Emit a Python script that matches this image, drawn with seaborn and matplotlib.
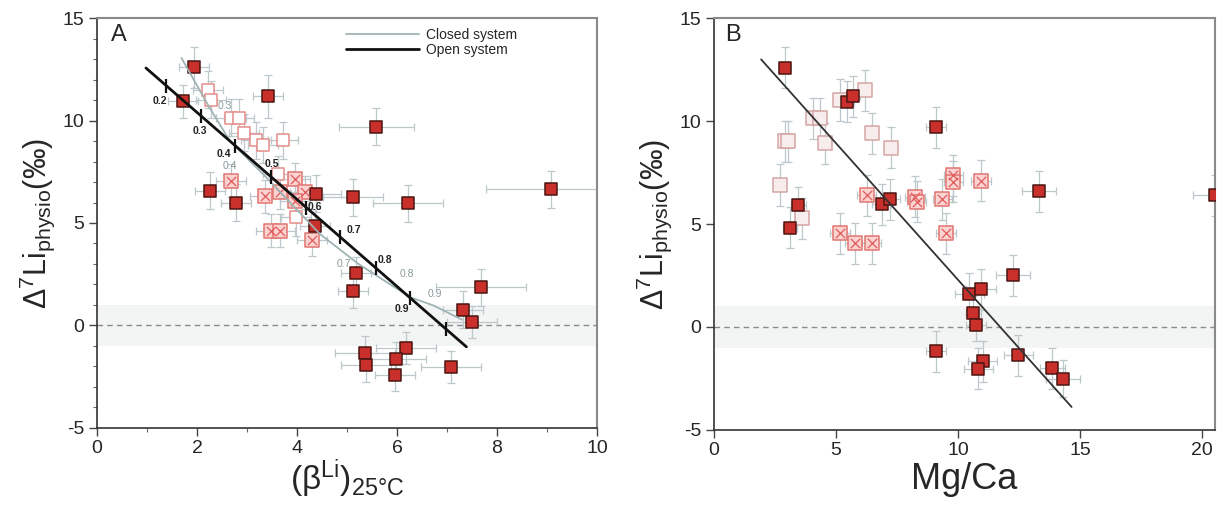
import matplotlib
matplotlib.use("Agg")
import matplotlib.pyplot as plt
import seaborn as sns
from matplotlib.lines import Line2D
from matplotlib.ticker import MultipleLocator

# ---------------- Panel A : (beta Li)25C vs D7Li physio ----------------
a_fill_x = [1.94, 1.73, 3.43, 5.59, 2.26, 2.79, 4.39, 5.13, 6.23, 9.09, 4.36,
            5.19, 5.13, 7.69, 7.33, 7.51, 5.36, 5.39, 6.18, 5.98, 5.96, 7.09]
a_fill_y = [12.6, 10.95, 11.2, 9.7, 6.57, 6.0, 6.44, 6.25, 5.96, 6.65, 4.87,
            2.55, 1.67, 1.87, 0.76, 0.16, -1.33, -1.95, -1.10, -1.62, -2.43, -2.03]
a_fill_xe = [0.3, 0.3, 0.3, 0.75, 0.3, 0.3, 0.5, 0.6, 0.7, 1.3, 0.3,
             0.3, 0.3, 0.9, 0.4, 0.5, 0.6, 0.5, 0.6, 0.6, 0.4, 0.6]
a_fill_ye = [1.0, 0.8, 1.05, 0.9, 0.9, 0.9, 0.9, 0.9, 0.9, 0.9, 0.8,
             0.8, 0.8, 0.9, 0.9, 0.8, 0.8, 0.8, 0.8, 0.8, 0.8, 0.8]

a_open_x = [2.23, 2.29, 2.68, 2.85, 2.94, 3.19, 3.33, 3.73, 3.63, 3.99]
a_open_y = [11.5, 11.03, 10.15, 10.15, 9.41, 9.03, 8.81, 9.03, 7.37, 5.27]

a_cross_x = [2.69, 3.97, 3.36, 3.66, 4.16, 3.97, 3.49, 3.66, 4.31]
a_cross_y = [7.06, 7.14, 6.30, 6.49, 6.49, 6.08, 4.62, 4.62, 4.17]

# open system line (straight) and its f marks
open_x = [0.98, 7.39]
open_y = [12.57, -1.05]
open_f_x = [1.39, 2.08, 2.77, 3.49, 4.19, 4.86, 5.58, 6.27, 6.99]
open_f_y = [11.70, 10.23, 8.77, 7.24, 5.75, 4.33, 2.80, 1.33, -0.20]
open_f_lab = ["0.2", "0.3", "0.4", "0.5", "0.6", "0.7", "0.8", "0.9", ""]
open_lab_x = [1.25, 2.06, 2.53, 3.49, 4.36, 5.13, 5.76, 6.09]
open_lab_y = [10.95, 9.49, 8.35, 7.9, 5.79, 4.67, 3.19, 0.81]

# closed system curve
closed_x = [1.69, 2.26, 2.66, 3.39, 4.46, 5.23, 6.26, 6.73, 7.30]
closed_y = [13.06, 10.6, 9.0, 7.22, 4.46, 3.0, 1.38, 0.97, 0.28]
closed_lab = ["0.3", "0.4", "0.7", "0.8", "0.9"]
closed_lab_x = [2.56, 2.66, 4.93, 6.19, 6.76]
closed_lab_y = [10.7, 7.79, 3.0, 2.51, 1.54]

# ---------------- Panel B : Mg/Ca vs D7Li physio ----------------
b_fill_x = [2.91, 5.44, 5.68, 9.10, 3.46, 3.11, 6.87, 7.21, 13.33, 20.53, 12.27,
            10.46, 10.94, 10.63, 10.74, 9.10, 12.47, 11.01, 10.83, 13.87, 14.31]
b_fill_y = [12.6, 10.95, 11.2, 9.7, 5.92, 4.82, 5.96, 6.2, 6.6, 6.4, 2.51,
            1.62, 1.83, 0.68, 0.11, -1.19, -1.38, -1.67, -2.03, -2.0, -2.51]
b_fill_xe = [0.2, 0.3, 0.3, 0.4, 0.3, 0.3, 0.4, 0.4, 0.7, 0.9, 0.7,
             0.6, 0.6, 0.3, 0.4, 0.4, 0.6, 0.6, 0.6, 0.5, 0.7]
b_fill_ye = [1.0, 1.0, 1.0, 1.0, 0.9, 1.0, 1.0, 1.0, 1.0, 1.0, 1.0,
             1.0, 1.0, 0.8, 0.8, 1.0, 1.0, 1.0, 1.0, 1.0, 0.9]

b_open_x = [5.16, 6.19, 4.07, 4.34, 2.91, 3.05, 4.55, 6.49, 7.24, 2.70, 3.59]
b_open_y = [11.03, 11.5, 10.13, 10.13, 9.03, 9.03, 8.92, 9.41, 8.71, 6.9, 5.27]

b_cross_x = [6.26, 8.24, 8.31, 9.36, 9.81, 9.81, 10.94, 9.51, 5.16, 5.78, 6.46]
b_cross_y = [6.40, 6.33, 6.08, 6.20, 7.37, 7.06, 7.10, 4.54, 4.54, 4.06, 4.06]

fit_b_x = [1.93, 14.66]
fit_b_y = [13.0, -3.89]

# ---------------- styling ----------------
sns.set_style("ticks")
plt.rcParams["font.family"] = ["Liberation Sans", "DejaVu Sans"]
plt.rcParams["mathtext.fontset"] = "custom"
plt.rcParams["mathtext.rm"] = "Liberation Sans"
plt.rcParams["mathtext.it"] = "Liberation Sans:italic"
plt.rcParams["axes.unicode_minus"] = False

ERR = "#bcc8cc"
FILL, FILL_EDGE = "#c9302b", "#4a1512"


def draw_group(ax, x, y, xe, ye, face, edge, s, cross=False):
    ax.errorbar(x, y, xerr=xe, yerr=ye, fmt="none", ecolor=ERR,
                elinewidth=0.9, capsize=3, capthick=0.9, zorder=2)
    sns.scatterplot(x=x, y=y, marker="s", s=s, color=face, edgecolor=edge,
                    linewidth=1.1, ax=ax, zorder=3, legend=False)
    if cross:
        sns.scatterplot(x=x, y=y, marker="x", s=s * 0.45, color="#e05a5a",
                        linewidth=0.9, ax=ax, zorder=4, legend=False)


def style_axes(ax, xlim, xmaj, xmin=None, ymin=True):
    ax.set_xlim(*xlim)
    ax.set_ylim(-5, 15)
    ax.xaxis.set_major_locator(MultipleLocator(xmaj))
    ax.yaxis.set_major_locator(MultipleLocator(5))
    if xmin:
        ax.xaxis.set_minor_locator(MultipleLocator(xmin))
    if ymin:
        ax.yaxis.set_minor_locator(MultipleLocator(1))
    ax.tick_params(which="major", direction="out", length=6, width=1,
                   color="#444", labelsize=14, pad=3)
    ax.tick_params(which="minor", direction="out", length=3, width=0.8, color="#666")
    for side in ["left", "bottom"]:
        ax.spines[side].set_color("#333")
        ax.spines[side].set_linewidth(1.2)
    for side in ["top", "right"]:
        ax.spines[side].set_color("#8a8a8a")
        ax.spines[side].set_linewidth(1.5)
    ax.axhspan(-1, 1, color="#f3f4f4", zorder=0, lw=0)
    ax.axhline(0, ls=(0, (4, 3)), color="#8a8a8a", lw=1, zorder=1)
    ax.set_ylabel(r"$\Delta^{7}\mathrm{Li}_{\mathrm{physio}}$(‰)", fontsize=22, labelpad=4)


fig = plt.figure(figsize=(12.21, 5.21), dpi=100)
axA = fig.add_axes([0.0794, 0.179, 0.4095, 0.786])
axB = fig.add_axes([0.5848, 0.175, 0.4105, 0.790])

# ---- Panel A ----
style_axes(axA, (0, 10), 2, xmin=1)
sns.lineplot(x=closed_x, y=closed_y, color="#9fb3b3", lw=1.3, ax=axA, zorder=5, sort=False)
sns.lineplot(x=open_x, y=open_y, color="#111", lw=2.0, ax=axA, zorder=6)
sns.scatterplot(x=open_f_x, y=open_f_y, marker="|", s=90, color="#111",
                linewidth=1.6, ax=axA, zorder=7, legend=False)
for t, tx, ty in zip(open_f_lab, open_lab_x, open_lab_y):
    axA.text(tx, ty, t, fontsize=7.5, fontweight="bold", color="#222",
             ha="center", va="center", zorder=8)
for t, tx, ty in zip(closed_lab, closed_lab_x, closed_lab_y):
    axA.text(tx, ty, t, fontsize=7.5, color="#8a9a9a", ha="center", va="center", zorder=8)

draw_group(axA, a_open_x, a_open_y, 0.3, 0.9, "white", "#e58d8a", 85)
draw_group(axA, a_cross_x, a_cross_y, 0.3, 0.8, "#fbd3d1", "#e27571", 95, cross=True)
draw_group(axA, a_fill_x, a_fill_y, a_fill_xe, a_fill_ye, FILL, FILL_EDGE, 75)

axA.text(0.28, 14.2, "A", fontsize=17, ha="left", va="center")
handles = [Line2D([], [], color="#9fb3b3", lw=1.3),
           Line2D([], [], color="#111", lw=2.0)]
axA.legend(handles, ["Closed system", "Open system"], loc="upper right",
           bbox_to_anchor=(0.86, 1.0), frameon=False, fontsize=10,
           handlelength=5.3, handletextpad=0.5, labelspacing=0.1, borderaxespad=0.3)
axA.set_xlabel(r"$(\mathrm{β}^{\mathrm{Li}})_{\mathrm{25°C}}$", fontsize=24, labelpad=0)

# ---- Panel B ----
style_axes(axB, (0, 20.55), 5, ymin=False)
sns.lineplot(x=fit_b_x, y=fit_b_y, color="#333", lw=1.3, ax=axB, zorder=6)
draw_group(axB, b_open_x, b_open_y, 0.2, 1.0, "#f7eded", "#d5a5a4", 110)
draw_group(axB, b_cross_x, b_cross_y, 0.4, 1.0, "#fbd3d1", "#e27571", 100, cross=True)
draw_group(axB, b_fill_x, b_fill_y, b_fill_xe, b_fill_ye, FILL, FILL_EDGE, 80)
axB.text(0.45, 14.2, "B", fontsize=17, ha="left", va="center")
axB.set_xlabel("Mg/Ca", fontsize=26, labelpad=2)

fig.savefig("out.png", dpi=100)
